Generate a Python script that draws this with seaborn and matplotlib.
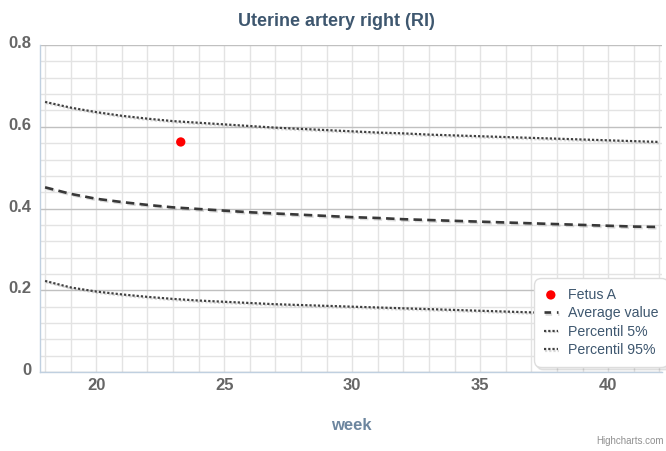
import numpy as np
import pandas as pd
import matplotlib
matplotlib.use("Agg")
import matplotlib.pyplot as plt
import matplotlib.patheffects as pe
import matplotlib.transforms as mtransforms
from matplotlib.ticker import MultipleLocator
import seaborn as sns

# gestational weeks
weeks = list(range(18, 43))

# reference curves
p95 = [0.661, 0.647, 0.636, 0.627, 0.620, 0.614, 0.610, 0.606, 0.602, 0.598,
       0.595, 0.592, 0.589, 0.586, 0.584, 0.581, 0.579, 0.577, 0.575, 0.573,
       0.571, 0.569, 0.567, 0.565, 0.563]
mean_val = [0.452, 0.436, 0.424, 0.416, 0.409, 0.403, 0.399, 0.395, 0.391, 0.388,
            0.385, 0.382, 0.379, 0.377, 0.374, 0.372, 0.370, 0.368, 0.366, 0.364,
            0.362, 0.360, 0.358, 0.356, 0.355]
p5 = [0.223, 0.207, 0.197, 0.190, 0.184, 0.179, 0.175, 0.172, 0.169, 0.166,
      0.164, 0.162, 0.160, 0.158, 0.156, 0.154, 0.152, 0.150, 0.148, 0.146,
      0.144, 0.143, 0.141, 0.140, 0.139]

# measured fetus
fetus_week = [23.3]
fetus_value = [0.563]

sns.set_style("white")
plt.rcParams["font.family"] = ["Liberation Sans", "DejaVu Sans"]

fig = plt.figure(figsize=(6.66, 4.51), dpi=100)
ax = fig.add_axes([0.060, 0.175, 0.934, 0.725])

shadow = [pe.SimpleLineShadow(offset=(1, -1), shadow_color="#999999", alpha=0.35),
          pe.Normal()]
dots = (0, (1, 0.9))

curves = pd.DataFrame({"week": weeks, "p5": p5, "mean": mean_val, "p95": p95})
fetus = pd.DataFrame({"week": fetus_week, "value": fetus_value})

sns.scatterplot(data=fetus, x="week", y="value", ax=ax, color="#ff0000",
                s=45, edgecolor="none", zorder=5, label="Fetus A")
sns.lineplot(data=curves, x="week", y="mean", ax=ax, color="#383838",
             linewidth=1.9, linestyle=(0, (3.2, 2.0)), label="Average value",
             path_effects=shadow)
sns.lineplot(data=curves, x="week", y="p5", ax=ax, color="#404040",
             linewidth=1.6, linestyle=dots, label="Percentil 5%",
             path_effects=shadow)
sns.lineplot(data=curves, x="week", y="p95", ax=ax, color="#404040",
             linewidth=1.6, linestyle=dots, label="Percentil 95%",
             path_effects=shadow)

ax.set_xlim(17.8, 42.1)
ax.set_ylim(0, 0.8)
ax.xaxis.set_major_locator(MultipleLocator(5))
ax.xaxis.set_minor_locator(MultipleLocator(1))
ax.yaxis.set_major_locator(MultipleLocator(0.2))
ax.yaxis.set_minor_locator(MultipleLocator(0.04))
ax.yaxis.set_major_formatter(plt.FuncFormatter(lambda v, _: "0" if v == 0 else f"{v:.1f}"))

ax.grid(which="minor", axis="both", color="#e3e3e3", linewidth=1)
ax.grid(which="major", axis="x", color="#e3e3e3", linewidth=1)
ax.grid(which="major", axis="y", color="#c0c0c0", linewidth=1)
ax.set_axisbelow(True)

for side in ["top", "right"]:
    ax.spines[side].set_visible(False)
for side in ["left", "bottom"]:
    ax.spines[side].set_color("#c0d0e0")
    ax.spines[side].set_linewidth(1)

ax.tick_params(axis="both", which="both", length=0, labelsize=12,
               labelcolor="#666666")
ax.tick_params(axis="x", pad=4)
ax.tick_params(axis="y", pad=6)
for lab in ax.get_xticklabels() + ax.get_yticklabels():
    lab.set_fontweight("bold")
# y labels sit a little above their grid lines
lift = mtransforms.ScaledTranslation(0, 3 / 100, fig.dpi_scale_trans)
for lab in ax.get_yticklabels():
    lab.set_transform(lab.get_transform() + lift)

ax.set_xlabel("week", fontsize=12, color="#6d869f", fontweight="bold", labelpad=18)
ax.set_ylabel("")
fig.text(0.505, 0.953, "Uterine artery right (RI)", ha="center", va="center",
         fontsize=13, color="#3e576f", fontweight="bold")
fig.text(0.997, 0.012, "Highcharts.com", ha="right", va="bottom",
         fontsize=7, color="#909090")

leg = ax.legend(loc="lower right", bbox_to_anchor=(1.01, 0.015),
                borderaxespad=0, frameon=True, fancybox=True,
                shadow={"ox": 2, "oy": -2, "color": "#000000", "alpha": 0.08},
                fontsize=10.2, handlelength=1.0, handletextpad=0.7,
                labelspacing=0.32, borderpad=0.7, edgecolor="#dddddd",
                framealpha=1)
leg.get_frame().set_boxstyle("round,pad=0,rounding_size=0.5")
for t in leg.get_texts():
    t.set_color("#3e576f")
leg.get_lines()[0].set_linestyle((0, (2.5, 2.2, 1, 2.2)))

fig.savefig("out.png", dpi=100)
